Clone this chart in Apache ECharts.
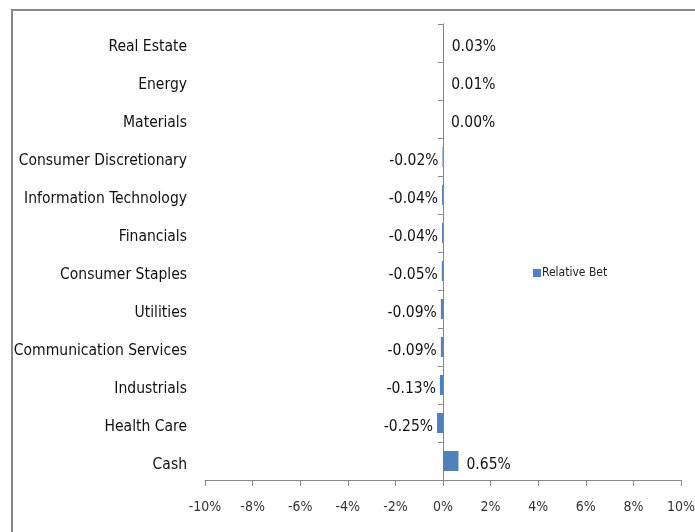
<!DOCTYPE html>
<html>
<head>
<meta charset="utf-8">
<script src="https://cdn.jsdelivr.net/npm/echarts@6/dist/echarts.min.js"></script>
<style>
  html, body { margin: 0; padding: 0; background: #fff; }
  #main { width: 695px; height: 532px; }
</style>
</head>
<body>
<div id="main"></div>
<script>
// sectors listed bottom to top (category axis starts at bottom)
const sectors = ['Cash', 'Health Care', 'Industrials', 'Communication Services', 'Utilities',
  'Consumer Staples', 'Financials', 'Information Technology', 'Consumer Discretionary',
  'Materials', 'Energy', 'Real Estate']
const relativeBet = [0.65, -0.25, -0.13, -0.09, -0.09, -0.05, -0.04, -0.04, -0.02, 0.00, 0.01, 0.03]
const xTicks = [-10, -8, -6, -4, -2, 0, 2, 4, 6, 8, 10]

const font = '"Liberation Sans Narrow", "DejaVu Sans Condensed", sans-serif'
const myChart = echarts.init(document.getElementById('main'))

myChart.setOption({
  animation: false,
  textStyle: { fontFamily: font },
  graphic: [
    {
      type: 'rect',
      shape: { x: 12, y: 10, width: 700, height: 540 },
      style: { fill: 'none', stroke: '#888', lineWidth: 2 },
      silent: true
    }
  ],
  legend: {
    data: ['Relative Bet'],
    left: 528,
    top: 262,
    itemWidth: 8,
    itemHeight: 8,
    icon: 'rect',
    textStyle: { fontFamily: font, fontSize: 12, color: '#222', padding: [0, 0, 0, -4] }
  },
  grid: { left: 205, right: 14, top: 24, bottom: 52, containLabel: false, outerBoundsMode: 'none' },
  xAxis: {
    type: 'value',
    min: xTicks[0],
    max: xTicks[xTicks.length - 1],
    interval: 2,
    splitLine: { show: false },
    axisLine: { show: true, lineStyle: { color: '#888' } },
    axisTick: { show: true, length: 6, lineStyle: { color: '#888' } },
    axisLabel: {
      fontFamily: font,
      fontSize: 14,
      color: '#333',
      margin: 20,
      formatter: v => v + '%'
    }
  },
  yAxis: [
    {
      // labels at the left edge of the plot
      type: 'category',
      data: sectors,
      position: 'left',
      axisLine: { show: false, onZero: false },
      axisTick: { show: false },
      axisLabel: {
        margin: 18,
        formatter: v => '{a|' + v + '}',
        rich: {
          a: { fontFamily: font, fontSize: 15.5, color: '#111', padding: [8, 0, 0, 0] }
        }
      }
    },
    {
      // line and ticks at zero
      type: 'category',
      data: sectors,
      position: 'left',
      axisLine: { show: true, onZero: true, lineStyle: { color: '#888' } },
      axisTick: { show: true, length: 5, lineStyle: { color: '#888' } },
      axisLabel: { show: false }
    }
  ],
  series: [
    {
      name: 'Relative Bet',
      type: 'bar',
      barWidth: 20,
      itemStyle: { color: '#4f81bd' },
      data: relativeBet.map(v => ({
        value: v,
        label: {
          show: true,
          position: v < 0 ? 'left' : 'right',
          distance: v < 0 ? 4 : 8,
          offset: [0, 4],
          fontFamily: font,
          fontSize: 15.5,
          color: '#111',
          formatter: p => p.value.toFixed(2) + '%'
        }
      }))
    }
  ]
})
</script>
</body>
</html>
